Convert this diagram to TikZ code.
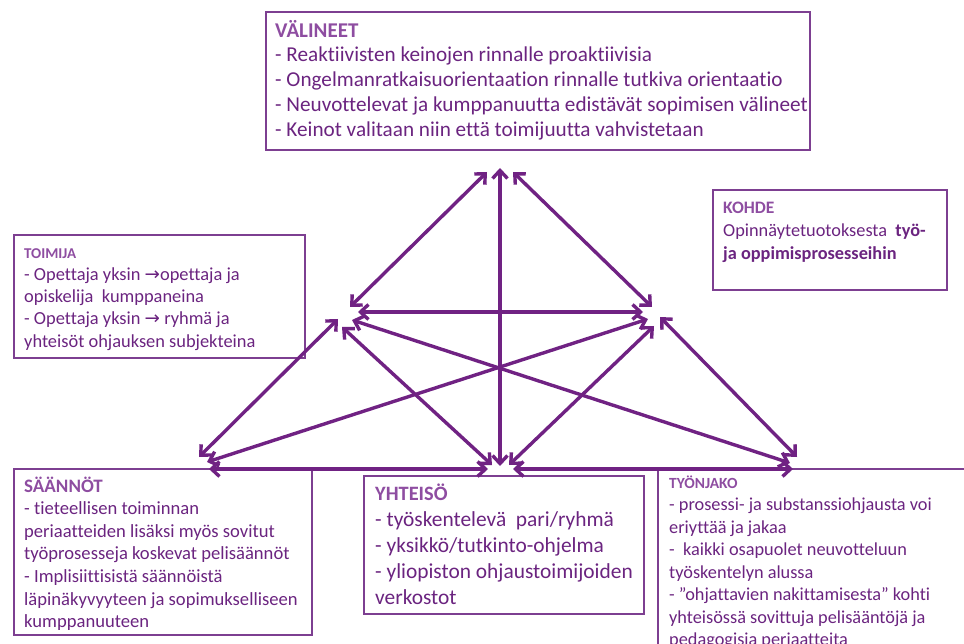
\documentclass[tikz,border=0pt]{standalone}
\usepackage{fontspec}
\setmainfont{Carlito}[Ligatures=NoCommon]
\newfontfamily\symfont{DejaVu Sans}
\usetikzlibrary{arrows.meta}

\definecolor{framepurple}{HTML}{7D3F91}
\definecolor{textpurple}{HTML}{6B2480}
\definecolor{headpurple}{HTML}{8E4DA1}
\definecolor{arrowpurple}{HTML}{702283}

\tikzset{
  frame/.style={draw=framepurple, line width=1.5pt},
  boxtext/.style={anchor=north west, inner sep=0pt, align=left, text=textpurple},
  link/.style={draw=arrowpurple, line width=3.4pt,
    {Straight Barb[length=8pt,width=15pt]}-{Straight Barb[length=8pt,width=15pt]}}
}
\newcommand{\hd}[2]{{\fontsize{#1}{#1}\selectfont\bfseries\color{headpurple}#2}}
\newcommand{\toarrow}{{\symfont →}}

\begin{document}
\begin{tikzpicture}[x=1pt,y=-1pt]
        \useasboundingbox (0,0) rectangle (964,644);

        % frames
        \draw[frame] (266,12) rectangle (810,150);
        \draw[frame] (14,235) rectangle (305,358);
        \draw[frame] (713,190) rectangle (947,290);
        \draw[frame] (14,469) rectangle (312,635);
        \draw[frame] (364,476) rectangle (644,614);
        \draw[frame] (658,660) -- (658,469) -- (980,469);

        % texts
        \node[boxtext, font=\fontsize{21.2}{24.7}\selectfont] (valineet) at (275,20)
          {\hd{21}{VÄLINEET}\\
           - Reaktiivisten keinojen rinnalle proaktiivisia\\
           - Ongelmanratkaisuorientaation rinnalle tutkiva orientaatio\\
           - Neuvottelevat ja kumppanuutta edistävät sopimisen välineet\\
           - Keinot valitaan niin että toimijuutta vahvistetaan};

        \node[boxtext, font=\fontsize{18.4}{22.3}\selectfont] (toimija) at (24,248)
          {\hd{15}{TOIMIJA}\\
           - Opettaja yksin \toarrow opettaja ja\\
           opiskelija\ \ kumppaneina\\
           - Opettaja yksin \toarrow\ ryhmä ja\\
           yhteisöt ohjauksen subjekteina};

        \node[boxtext, font=\fontsize{18.3}{23}\selectfont] (kohde) at (723,202)
          {\hd{17.5}{KOHDE}\\
           Opinnäytetuotoksesta\ \ \textbf{työ-}\\
           \textbf{ja oppimisprosesseihin}};

        \node[boxtext, font=\fontsize{18.6}{22.6}\selectfont] (saannot) at (24,476.5)
          {\hd{19}{SÄÄNNÖT}\\
           - tieteellisen toiminnan\\
           periaatteiden lisäksi myös sovitut\\
           työprosesseja koskevat pelisäännöt\\
           - Implisiittisistä säännöistä\\
           läpinäkyvyyteen ja sopimukselliseen\\
           kumppanuuteen};

        \node[boxtext, font=\fontsize{21.4}{26}\selectfont] (yhteiso) at (375,484)
          {\hd{20.4}{YHTEISÖ}\\
           - työskentelevä\ \ pari/ryhmä\\
           - yksikkö/tutkinto-ohjelma\\
           - yliopiston ohjaustoimijoiden\\
           verkostot};

        \node[boxtext, font=\fontsize{18.3}{22.5}\selectfont] (tyonjako) at (669,475.5)
          {\hd{15.5}{TYÖNJAKO}\\
           - prosessi- ja substanssiohjausta voi\\
           eriyttää ja jakaa\\
           -\ \ kaikki osapuolet neuvotteluun\\
           työskentelyn alussa\\
           - ”ohjattavien nakittamisesta” kohti\\
           yhteisössä sovittuja pelisääntöjä ja\\
           pedagogisia periaatteita};

        % arrow ends
        \coordinate (t_l) at (487,172);
        \coordinate (t_v) at (500,168);
        \coordinate (t_r) at (513,172);

        \coordinate (l_t) at (350,307);
        \coordinate (l_r) at (358,312);
        \coordinate (l_br) at (352,320);
        \coordinate (l_bm) at (342,327);
        \coordinate (l_bl) at (338,319);

        \coordinate (r_t) at (652,307);
        \coordinate (r_l) at (643,312);
        \coordinate (r_bl) at (648,319);
        \coordinate (r_bm) at (654,326);
        \coordinate (r_br) at (660,317);

        \coordinate (bl_l) at (199,457);
        \coordinate (bl_r) at (207,462);
        \coordinate (bl_h) at (209,469);

        \coordinate (bm_l) at (492,465);
        \coordinate (bm_v) at (500,466);
        \coordinate (bm_r) at (509,465);
        \coordinate (bm_hl) at (488,469);
        \coordinate (bm_hr) at (513,469);

        \coordinate (br_r) at (797,457);
        \coordinate (br_l) at (790,463);
        \coordinate (br_h) at (793,469);

        % connectors
        \draw[link] (t_l) -- (l_t);
        \draw[link] (t_v) -- (bm_v);
        \draw[link] (t_r) -- (r_t);
        \draw[link] (l_r) -- (r_l);
        \draw[link] (l_br) -- (br_l);
        \draw[link] (r_bl) -- (bl_r);
        \draw[link] (l_bm) -- (bm_l);
        \draw[link] (r_bm) -- (bm_r);
        \draw[link] (l_bl) -- (bl_l);
        \draw[link] (r_br) -- (br_r);
        \draw[link] (bl_h) -- (bm_hl);
        \draw[link] (bm_hr) -- (br_h);
\end{tikzpicture}
\end{document}
